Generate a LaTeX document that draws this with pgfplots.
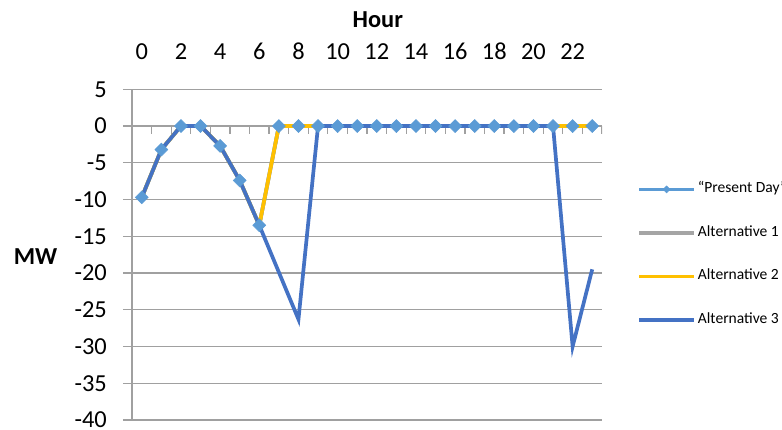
\documentclass[border=0pt]{standalone}
\usepackage{pgfplots}
\pgfplotsset{compat=1.18}
\usepackage{fontspec}
\setmainfont{Carlito}
\definecolor{pdc}{HTML}{5B9BD5}
\definecolor{aonec}{HTML}{A5A5A5}
\definecolor{atwoc}{HTML}{FFC000}
\definecolor{athreec}{HTML}{4472C4}
\definecolor{gridc}{HTML}{A0A0A0}
\begin{document}
\begin{tikzpicture}
\useasboundingbox (0,0) rectangle (782bp,430bp);
\begin{axis}[
  at={(132bp,10bp)}, anchor=south west,
  scale only axis, width=470bp, height=330.7bp,
  xmin=-0.5, xmax=23.5, ymin=-40, ymax=5,
  axis x line*=top, axis y line*=left,
  axis line style={draw=gridc, line width=1.2bp},
  xtick={0,2,...,22},
  xticklabels={0,2,4,6,8,10,12,14,16,18,20,22},
  ytick={-40,-35,...,5},
  yticklabels={-40,-35,-30,-25,-20,-15,-10,-5,0,5},
  tick align=outside, major tick length=9bp,
  x tick style={draw=none},
  y tick style={draw=gridc, line width=1.2bp},
  ymajorgrids, grid style={draw=gridc, line width=1.2bp},
  tick label style={font=\fontsize{24.5}{29}\selectfont},
  yticklabel style={anchor=east, inner sep=0pt, xshift=-16bp},
  xticklabel style={anchor=south, inner sep=0pt, yshift=20.8bp},
  xlabel={Hour}, ylabel={MW},
  label style={font=\fontsize{24.5}{29}\selectfont\bfseries},
  xlabel style={at={(axis description cs:0.523,1)}, anchor=base, inner sep=0pt, yshift=61.6bp},
  ylabel style={rotate=-90, at={(axis description cs:-0.2053,0.493)}, anchor=center, inner sep=0pt},
  legend style={draw=none, fill=none, at={(1,0.5)}, anchor=west, xshift=35bp,
    inner sep=0pt, row sep=28.5bp, font=\fontsize{15.6}{18}\selectfont,
    nodes={inner ysep=0pt, inner xsep=2bp, text height=11bp, text depth=4bp}},
  legend cell align=left,
  legend image code/.code={\draw[mark repeat=2,mark phase=2,#1,mark size=2.5bp] plot coordinates {(0bp,0bp) (27.5bp,0bp) (55bp,0bp)};},
]
\addplot[ycomb, draw=gridc, line width=1.2bp, no marks, forget plot] coordinates {
(0.5,-1.1) (1.5,-1.1) (2.5,-1.1) (3.5,-1.1) (4.5,-1.1) (5.5,-1.1) (6.5,-1.1) (7.5,-1.1)
(8.5,-1.1) (9.5,-1.1) (10.5,-1.1) (11.5,-1.1) (12.5,-1.1) (13.5,-1.1) (14.5,-1.1) (15.5,-1.1)
(16.5,-1.1) (17.5,-1.1) (18.5,-1.1) (19.5,-1.1) (20.5,-1.1) (21.5,-1.1) (22.5,-1.1) (23.5,-1.1)};
\addplot[color=pdc, line width=3.7bp, mark=square*, mark size=4.6bp, mark options={rotate=45, line width=0.5bp}] coordinates {
(0,-9.7) (1,-3.2) (2,0) (3,0) (4,-2.7) (5,-7.4) (6,-13.5) (7,0) (8,0) (9,0) (10,0) (11,0)
(12,0) (13,0) (14,0) (15,0) (16,0) (17,0) (18,0) (19,0) (20,0) (21,0) (22,0) (23,0)};
\addlegendentry{“Present Day”}
\addplot[color=aonec, line width=3.7bp, no marks] coordinates {
(0,-9.7) (1,-3.2) (2,0) (3,0) (4,-2.7) (5,-7.4) (6,-13.5) (7,0) (8,0) (9,0) (10,0) (11,0)
(12,0) (13,0) (14,0) (15,0) (16,0) (17,0) (18,0) (19,0) (20,0) (21,0) (22,0) (23,0)};
\addlegendentry{Alternative 1}
\addplot[color=atwoc, line width=3.7bp, no marks] coordinates {
(0,-9.7) (1,-3.2) (2,0) (3,0) (4,-2.7) (5,-7.4) (6,-13.5) (7,0) (8,0) (9,0) (10,0) (11,0)
(12,0) (13,0) (14,0) (15,0) (16,0) (17,0) (18,0) (19,0) (20,0) (21,0) (22,0) (23,0)};
\addlegendentry{Alternative 2}
\addplot[color=athreec, line width=3.7bp, no marks] coordinates {
(0,-9.7) (1,-3.2) (2,0) (3,0) (4,-2.7) (5,-7.4) (6,-13.5) (7,-19.9) (8,-26.3) (9,0) (10,0) (11,0)
(12,0) (13,0) (14,0) (15,0) (16,0) (17,0) (18,0) (19,0) (20,0) (21,0) (22,-30) (23,-19.5)};
\addlegendentry{Alternative 3}
\end{axis}
\end{tikzpicture}
\end{document}
